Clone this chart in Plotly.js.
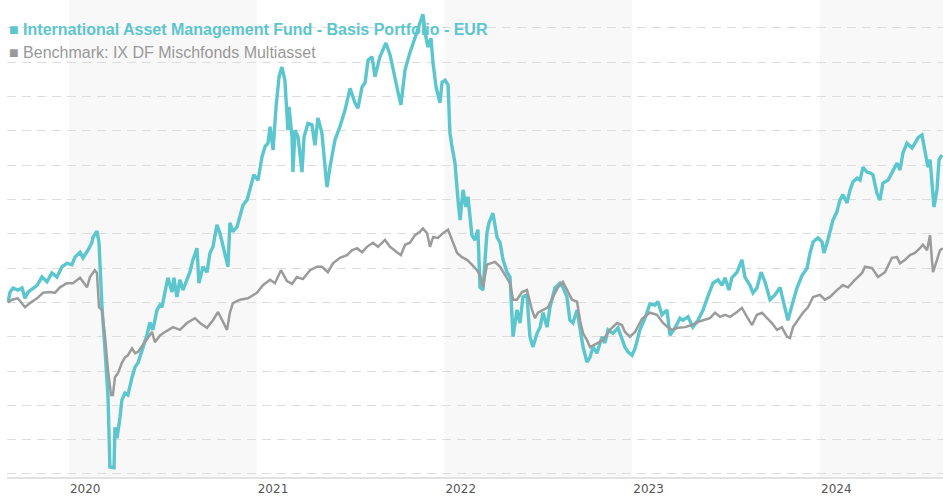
<!DOCTYPE html>
<html>
<head>
<meta charset="utf-8">
<script src="https://cdn.plot.ly/plotly-3.0.1.min.js"></script>
<style>html,body{margin:0;padding:0;background:#fff;}#chart{width:943px;height:500px;}</style>
</head>
<body>
<div id="chart"></div>
<script>
const fundName = 'International Asset Management Fund - Basis Portfolio - EUR';
const benchName = 'Benchmark: IX DF Mischfonds Multiasset';

// time in decimal years, value = performance in %
const fundT = [2019.675,2019.686,2019.702,2019.728,2019.750,2019.766,2019.782,2019.808,2019.830,2019.856,2019.883,2019.909,2019.936,2019.963,2019.989,
2020.016,2020.032,2020.059,2020.075,2020.101,2020.122,2020.128,2020.149,2020.160,2020.165,2020.176,2020.192,2020.208,2020.218,2020.240,2020.245,2020.256,2020.272,2020.282,2020.298,2020.314,2020.336,2020.352,2020.368,2020.389,2020.415,2020.431,2020.447,2020.469,2020.485,2020.495,2020.511,2020.527,2020.549,2020.559,2020.575,2020.591,2020.607,2020.628,2020.644,2020.660,2020.682,2020.692,2020.714,2020.735,2020.751,2020.767,2020.788,2020.804,2020.820,2020.847,2020.857,2020.873,2020.895,2020.911,2020.927,2020.948,2020.964,2020.985,
2021.007,2021.028,2021.044,2021.060,2021.071,2021.087,2021.103,2021.119,2021.134,2021.150,2021.166,2021.172,2021.188,2021.193,2021.204,2021.220,2021.241,2021.252,2021.273,2021.294,2021.310,2021.326,2021.347,2021.358,2021.374,2021.390,2021.417,2021.443,2021.470,2021.497,2021.523,2021.539,2021.561,2021.577,2021.593,2021.614,2021.630,2021.656,2021.688,2021.710,2021.736,2021.752,2021.768,2021.790,2021.816,2021.843,2021.859,2021.885,2021.901,2021.912,2021.928,2021.939,2021.955,2021.976,2021.987,
2022.003,2022.019,2022.029,2022.040,2022.056,2022.072,2022.083,2022.099,2022.114,2022.125,2022.146,2022.162,2022.178,2022.189,2022.205,2022.226,2022.237,2022.258,2022.280,2022.296,2022.312,2022.333,2022.349,2022.365,2022.386,2022.402,2022.418,2022.439,2022.455,2022.471,2022.493,2022.509,2022.525,2022.546,2022.562,2022.588,2022.615,2022.631,2022.652,2022.668,2022.684,2022.706,2022.722,2022.738,2022.759,2022.775,2022.791,2022.812,2022.839,2022.855,2022.871,2022.897,2022.924,2022.945,2022.961,2022.977,2022.999,
2023.015,2023.041,2023.068,2023.094,2023.121,2023.137,2023.158,2023.185,2023.201,2023.228,2023.254,2023.270,2023.297,2023.323,2023.350,2023.377,2023.403,2023.430,2023.457,2023.478,2023.494,2023.515,2023.531,2023.558,2023.584,2023.600,2023.627,2023.643,2023.664,2023.686,2023.707,2023.734,2023.760,2023.787,2023.813,2023.829,2023.851,2023.877,2023.904,2023.931,2023.947,2023.963,2023.989,
2024.011,2024.021,2024.042,2024.069,2024.090,2024.106,2024.122,2024.144,2024.160,2024.176,2024.197,2024.213,2024.229,2024.250,2024.266,2024.282,2024.303,2024.319,2024.335,2024.362,2024.383,2024.410,2024.426,2024.442,2024.463,2024.490,2024.506,2024.522,2024.543,2024.559,2024.575,2024.586,2024.596,2024.607,2024.623,2024.634,2024.650];
const fundV = [0.0,1.5,2.1,1.8,2.1,0.6,1.5,2.1,2.5,3.7,3.0,4.3,3.7,5.2,5.7,
5.5,6.6,7.3,6.5,7.6,8.7,9.5,10.4,8.7,4.7,-0.7,-6.9,-13.8,-24.0,-24.1,-18.2,-19.8,-16.7,-14.2,-13.2,-13.5,-10.9,-9.4,-8.8,-6.9,-4.8,-2.9,-4.0,-1.1,-0.4,-0.7,1.4,3.6,1.5,3.6,0.8,3.3,1.8,3.3,4.4,6.2,7.9,2.8,5.2,4.4,7.2,8.1,11.3,10.1,8.1,5.2,11.6,10.3,11.0,12.7,14.2,14.9,16.4,18.6,
17.8,21.2,22.7,23.2,25.6,22.2,28.5,32.9,34.3,32.4,25.1,28.5,24.1,19.0,25.1,24.1,19.0,24.1,26.1,25.9,22.9,26.9,24.7,21.8,16.8,19.7,23.7,25.6,28.0,31.2,29.1,28.3,31.4,32.0,35.3,35.8,32.9,35.8,37.8,36.1,32.4,30.7,28.8,33.9,36.4,38.7,39.7,42.0,38.7,37.2,38.5,34.9,31.4,29.1,32.1,
32.4,31.7,24.7,22.7,20.3,14.9,12.0,16.4,13.9,15.4,9.8,9.1,10.6,2.2,1.8,10.1,11.6,13.0,9.5,8.7,6.2,4.4,3.7,-5.0,-1.1,-3.0,0.8,1.1,-5.0,-6.5,-4.5,-3.6,-1.5,-3.6,-0.7,2.1,2.8,2.2,0.8,-2.6,-3.0,-1.1,-3.6,-6.5,-8.7,-8.0,-6.5,-7.4,-5.0,-5.9,-4.0,-4.5,-3.7,-5.5,-6.5,-7.2,-7.7,
-6.7,-4.0,-2.3,-0.2,-0.4,0.1,-1.8,-1.1,-4.8,-3.7,-2.3,-2.6,-2.1,-3.6,-2.6,-1.1,0.9,2.8,3.3,2.5,3.6,1.8,3.6,4.4,6.2,3.7,2.5,1.4,2.1,4.4,3.0,0.4,1.1,2.2,-0.8,-2.6,-0.4,2.1,3.9,5.0,7.2,8.8,9.4,
8.8,7.2,9.1,12.0,13.2,14.9,15.7,14.5,16.4,17.6,18.1,17.8,19.7,19.0,18.9,18.6,15.9,14.9,17.4,17.8,19.0,20.3,19.3,21.8,23.2,22.5,23.2,24.0,24.4,21.8,19.7,20.8,16.8,13.9,16.4,20.8,21.5];

const benchT = [2019.675,2019.696,2019.728,2019.766,2019.792,2019.830,2019.862,2019.899,2019.925,2019.952,2019.989,
2020.021,2020.059,2020.075,2020.096,2020.112,2020.138,2020.149,2020.160,2020.176,2020.192,2020.208,2020.224,2020.234,2020.245,2020.261,2020.282,2020.298,2020.314,2020.336,2020.352,2020.368,2020.394,2020.421,2020.442,2020.458,2020.485,2020.501,2020.554,2020.591,2020.628,2020.671,2020.698,2020.735,2020.767,2020.794,2020.815,2020.842,2020.857,2020.873,2020.911,2020.953,
2021.001,2021.033,2021.071,2021.097,2021.129,2021.161,2021.188,2021.214,2021.246,2021.284,2021.321,2021.347,2021.379,2021.406,2021.443,2021.481,2021.507,2021.534,2021.561,2021.587,2021.619,2021.646,2021.683,2021.710,2021.747,2021.768,2021.790,2021.816,2021.843,2021.869,2021.885,2021.907,2021.923,2021.939,2021.965,2021.992,
2022.019,2022.040,2022.067,2022.093,2022.120,2022.146,2022.173,2022.189,2022.205,2022.226,2022.253,2022.269,2022.296,2022.322,2022.349,2022.365,2022.386,2022.413,2022.439,2022.466,2022.482,2022.498,2022.525,2022.551,2022.578,2022.604,2022.631,2022.652,2022.679,2022.706,2022.722,2022.738,2022.759,2022.775,2022.812,2022.844,2022.881,2022.919,2022.945,2022.961,2022.988,
2023.015,2023.052,2023.094,2023.132,2023.164,2023.190,2023.212,2023.244,2023.281,2023.318,2023.345,2023.377,2023.414,2023.441,2023.467,2023.494,2023.521,2023.558,2023.584,2023.611,2023.638,2023.664,2023.691,2023.718,2023.744,2023.771,2023.797,2023.824,2023.840,2023.856,2023.883,2023.909,2023.936,2023.963,
2024.000,2024.026,2024.053,2024.090,2024.122,2024.149,2024.186,2024.224,2024.240,2024.277,2024.309,2024.346,2024.383,2024.410,2024.426,2024.453,2024.479,2024.506,2024.532,2024.548,2024.570,2024.586,2024.596,2024.602,2024.623,2024.639,2024.655];
const benchV = [0.0,0.4,0.6,-0.7,-0.1,0.6,1.4,1.5,1.4,2.2,2.8,
2.8,3.6,3.0,2.2,3.7,4.7,4.3,-0.7,-1.1,-5.0,-9.9,-13.5,-13.5,-10.9,-10.3,-8.8,-8.0,-7.7,-6.7,-7.4,-7.2,-6.2,-5.0,-4.3,-5.8,-4.8,-4.5,-3.6,-4.0,-3.0,-2.3,-3.0,-3.7,-2.6,-1.4,-2.6,-4.0,-1.5,-0.1,0.4,0.6,
1.4,2.5,3.3,2.8,4.7,3.1,2.7,3.7,3.4,4.7,5.2,5.2,4.4,5.7,6.5,6.9,7.6,7.9,7.3,8.1,8.7,8.1,9.1,8.1,7.3,6.9,8.4,8.7,9.8,10.3,10.8,10.1,8.1,9.5,9.4,10.1,
10.6,9.1,7.2,6.6,6.2,5.5,4.7,4.0,2.2,5.5,5.7,5.9,5.2,4.0,2.8,0.4,0.4,1.5,1.8,-1.1,-2.3,-1.5,-1.1,-0.7,0.8,2.2,3.0,1.8,0.4,0.1,-2.6,-4.5,-5.5,-6.5,-5.9,-5.5,-4.0,-3.0,-3.3,-4.3,-5.0,
-4.3,-2.4,-1.5,-1.8,-3.0,-3.6,-4.0,-3.7,-3.6,-3.3,-2.9,-2.6,-2.3,-1.5,-2.1,-1.8,-2.1,-1.4,-0.8,-2.1,-3.3,-1.8,-1.5,-2.3,-3.0,-4.0,-3.6,-5.0,-5.2,-3.6,-2.6,-1.5,-0.7,0.8,
1.1,0.4,0.8,1.8,2.5,2.2,3.3,4.3,5.2,5.0,3.7,4.4,6.5,6.6,5.7,6.2,6.9,7.2,7.9,8.4,7.6,9.8,6.2,4.4,6.2,7.6,7.9];

const yearTicks = [2020, 2021, 2022, 2023, 2024];
const yearLabels = ['2020', '2021', '2022', '2023', '2024'];
const shadedYears = [2020, 2022, 2024];

const xRange = [2019.670, 2024.655];
const yRange = [-25.44, 44.07];

const fundColor = '#5cc6ce';
const benchColor = '#9b9b9b';

const traces = [
  {x: fundT, y: fundV, type: 'scatter', mode: 'lines', name: fundName,
   line: {color: fundColor, width: 3.4}, showlegend: false, hoverinfo: 'skip'},
  {x: benchT, y: benchV, type: 'scatter', mode: 'lines', name: benchName,
   line: {color: benchColor, width: 2.5}, showlegend: false, hoverinfo: 'skip'}
];

const shapes = shadedYears.map(yr => ({
  type: 'rect', xref: 'x', yref: 'paper', x0: yr, x1: Math.min(yr + 1, xRange[1]),
  y0: 0, y1: 1, fillcolor: '#f8f8f8', line: {width: 0}, layer: 'below'
}));

const layout = {
  width: 943, height: 500,
  margin: {l: 7, r: 0, t: 0, b: 23, pad: 0},
  paper_bgcolor: '#ffffff', plot_bgcolor: 'rgba(0,0,0,0)',
  showlegend: false,
  xaxis: {
    type: 'linear', range: xRange, tickvals: yearTicks, ticktext: yearLabels,
    showgrid: false, zeroline: false, showline: true, linecolor: '#e2e2e2', linewidth: 2,
    ticks: '', ticklabelposition: 'outside right',
    tickfont: {family: 'DejaVu Sans', size: 12, color: '#555555'},
    fixedrange: true
  },
  yaxis: {
    range: yRange, dtick: 5, tick0: 0, showticklabels: false,
    showgrid: true, gridcolor: '#dddddd', gridwidth: 1, griddash: '9px,6px',
    zeroline: false, showline: false, ticks: '', fixedrange: true
  },
  shapes: shapes,
  annotations: [
    {xref: 'paper', yref: 'paper', x: 0.0, y: 1 - 30/477, xanchor: 'left', yanchor: 'middle',
     showarrow: false, align: 'left',
     text: '■ <b>' + fundName + '</b>',
     font: {family: 'Liberation Sans, Arial', size: 16, color: fundColor}},
    {xref: 'paper', yref: 'paper', x: 0.0, y: 1 - 52/477, xanchor: 'left', yanchor: 'middle',
     showarrow: false, align: 'left',
     text: '■ ' + benchName,
     font: {family: 'Liberation Sans, Arial', size: 16, color: '#999999'}}
  ]
};

Plotly.newPlot('chart', traces, layout, {displayModeBar: false, staticPlot: true});
</script>
</body>
</html>
